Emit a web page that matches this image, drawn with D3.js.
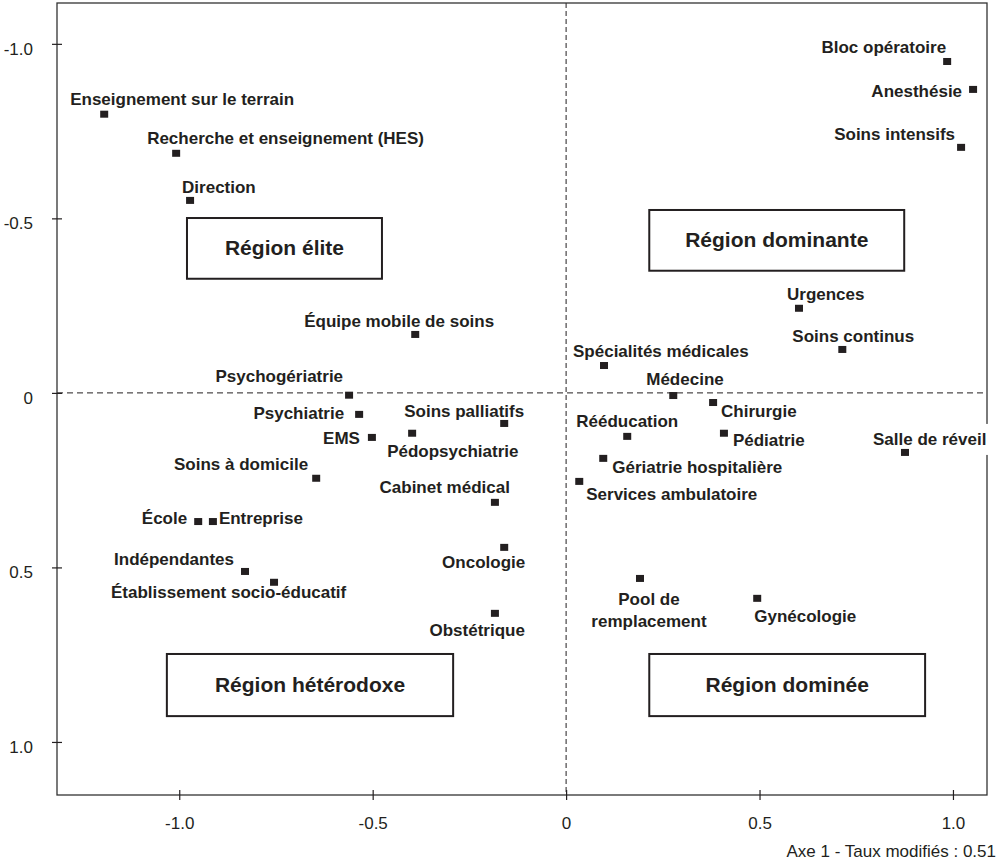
<!DOCTYPE html>
<html>
<head>
<meta charset="utf-8">
<script src="https://cdn.jsdelivr.net/npm/d3@7"></script>
<style>
  body { margin:0; background:#fff; }
  svg text { font-family:"Liberation Sans", Arial, sans-serif; fill:#231f20; }
</style>
</head>
<body>
<div id="chart"></div>
<script>
// secteurs (catégories) et coordonnées sur les axes 1 et 2
const secteurs = [
  'Enseignement sur le terrain','Recherche et enseignement (HES)','Direction',
  'Bloc opératoire','Anesthésie','Soins intensifs',
  'Équipe mobile de soins','Psychogériatrie','Psychiatrie','Soins palliatifs','EMS',
  'Pédopsychiatrie','Soins à domicile','Urgences','Soins continus','Spécialités médicales',
  'Médecine','Chirurgie','Rééducation','Pédiatrie','Salle de réveil','Gériatrie hospitalière',
  'Services ambulatoire','Cabinet médical','École','Entreprise','Oncologie','Indépendantes',
  'Établissement socio-éducatif','Obstétrique','Pool de remplacement','Gynécologie'
];
const axe1 = [
  -1.194,-1.008,-0.972,
  0.985,1.052,1.021,
  -0.390,-0.561,-0.535,-0.160,-0.502,
  -0.398,-0.646,0.602,0.714,0.098,
  0.277,0.380,0.158,0.408,0.876,0.096,
  0.034,-0.184,-0.951,-0.913,-0.160,-0.830,
  -0.755,-0.184,0.191,0.494
];
const axe2 = [
  -0.797,-0.685,-0.550,
  -0.948,-0.868,-0.702,
  -0.166,0.008,0.063,0.089,0.129,
  0.117,0.246,-0.241,-0.123,-0.077,
  0.009,0.029,0.126,0.117,0.172,0.189,
  0.255,0.315,0.370,0.370,0.444,0.513,
  0.544,0.633,0.533,0.590
];

// régions (rectangles en coordonnées des axes)
const regions = ['Région élite','Région dominante','Région hétérodoxe','Région dominée'];
const regX0 = [-0.980, 0.215, -1.032, 0.215];
const regX1 = [-0.476, 0.874, -0.292, 0.928];
const regY0 = [-0.501, -0.524, 0.748, 0.748];
const regY1 = [-0.327, -0.350, 0.926, 0.926];

// graduations
const tickVals   = [-1, -0.5, 0, 0.5, 1];
const xTickLabels = ['-1.0','-0.5','0','0.5','1.0'];
const yTickLabels = ['-1.0','-0.5','0','0.5','1.0'];
const xTitle = 'Axe 1 - Taux modifiés : 0.51';

// placement des étiquettes (ancre, décalage px) — même ordre que secteurs
const labelPos = [
  ['start',-34,-10],['start',-29,-10],['start',-8,-8],
  ['end',-1,-9],['end',-11,7],['end',-6,-8],
  ['start',-111,-8],['end',-6,-14],['end',-15,4],['end',20,-7],['end',-12,6],
  ['start',-25,23],['end',-8,-9],['start',-12,-9],['start',-50,-8],['start',-31,-9],
  ['start',-27,-11],['start',8,14],['start',-51,-10],['start',9,12],['start',-32,-8],['start',9,14],
  ['start',7,18],['end',15,-10],['end',-11,2],['start',6,2],['end',21,20],['end',-11,-7],
  ['start',-163,15],['end',30,22],['middle',9,26],['start',-3,23]
];

const W = 1008, H = 865;
const m = {left:57, top:3, right:21, bottom:70};

const x = d3.scaleLinear().domain([-1.316, 1.088]).range([m.left, W - m.right]);
const y = d3.scaleLinear().domain([-1.117, 1.152]).range([m.top, H - m.bottom]);

const svg = d3.select('#chart').append('svg')
  .attr('width', W).attr('height', H);

const ink = '#231f20';

// lignes pointillées à 0
svg.append('line')
  .attr('x1', x(0)).attr('x2', x(0))
  .attr('y1', y.range()[0]).attr('y2', y.range()[1])
  .attr('stroke', ink).attr('stroke-width', 1).attr('stroke-dasharray', '5,3');
svg.append('line')
  .attr('x1', x.range()[0]).attr('x2', x.range()[1])
  .attr('y1', y(0)).attr('y2', y(0))
  .attr('stroke', ink).attr('stroke-width', 1).attr('stroke-dasharray', '6,4');

// cadre
svg.append('rect')
  .attr('x', x.range()[0]).attr('y', y.range()[0])
  .attr('width', x.range()[1] - x.range()[0])
  .attr('height', y.range()[1] - y.range()[0])
  .attr('fill', 'none').attr('stroke', '#333').attr('stroke-width', 1.3);

// axes
const gx = svg.append('g')
  .attr('transform', `translate(0,${y.range()[1]})`)
  .call(d3.axisBottom(x).tickValues(tickVals)
    .tickFormat((d,i) => xTickLabels[i]).tickSize(5).tickPadding(17));
gx.select('.domain').remove();
gx.selectAll('.tick line').attr('y1', -5).attr('y2', 5).attr('stroke', ink).attr('stroke-width', 1.2);
gx.selectAll('.tick text').style('font-size', '17px').attr('fill', ink);

const gy = svg.append('g')
  .attr('transform', `translate(${x.range()[0]},0)`)
  .call(d3.axisLeft(y).tickValues(tickVals)
    .tickFormat((d,i) => yTickLabels[i]).tickSize(5).tickPadding(19));
gy.select('.domain').remove();
gy.selectAll('.tick line').attr('x1', -5).attr('x2', 5).attr('stroke', ink).attr('stroke-width', 1.2);
gy.selectAll('.tick text').style('font-size', '17px').attr('dy', '0.6em').attr('fill', ink);

svg.append('text')
  .attr('x', 996).attr('y', 857)
  .attr('text-anchor', 'end')
  .style('font-size', '17px')
  .text(xTitle);

// régions
regions.forEach((r, i) => {
  svg.append('rect')
    .attr('x', x(regX0[i])).attr('y', y(regY0[i]))
    .attr('width', x(regX1[i]) - x(regX0[i]))
    .attr('height', y(regY1[i]) - y(regY0[i]))
    .attr('fill', '#fff').attr('stroke', ink).attr('stroke-width', 2);
  svg.append('text')
    .attr('x', (x(regX0[i]) + x(regX1[i])) / 2)
    .attr('y', (y(regY0[i]) + y(regY1[i])) / 2 + 7)
    .attr('text-anchor', 'middle')
    .style('font-size', '21px').style('font-weight', 'bold')
    .text(r);
});

// étiquettes
const pts = secteurs.map((s, i) => ({ name: s, x: axe1[i], y: axe2[i], p: labelPos[i] }));
const lab = svg.append('g').selectAll('g').data(pts).enter().append('g');
lab.each(function(d){
  const g = d3.select(this);
  const t = g.append('text')
    .attr('x', x(d.x) + d.p[1]).attr('y', y(d.y) + d.p[2])
    .attr('text-anchor', d.p[0])
    .style('font-size', '17px').style('font-weight', 'bold');
  if (d.name === 'Pool de remplacement') {
    t.append('tspan').attr('x', x(d.x) + d.p[1]).text('Pool de');
    t.append('tspan').attr('x', x(d.x) + d.p[1]).attr('dy', 22).text('remplacement');
  } else {
    t.text(d.name);
  }
  if (d.name === 'Salle de réveil') {
    const b = t.node().getBBox();
    g.insert('rect', 'text')
      .attr('x', b.x - 2).attr('y', b.y - 6)
      .attr('width', b.width + 4).attr('height', b.height + 12)
      .attr('fill', '#fff');
  }
});

// points
svg.append('g').selectAll('rect').data(pts).enter().append('rect')
  .attr('x', d => x(d.x) - 4).attr('y', d => y(d.y) - 4)
  .attr('width', 8).attr('height', 7)
  .attr('fill', ink);
</script>
</body>
</html>
